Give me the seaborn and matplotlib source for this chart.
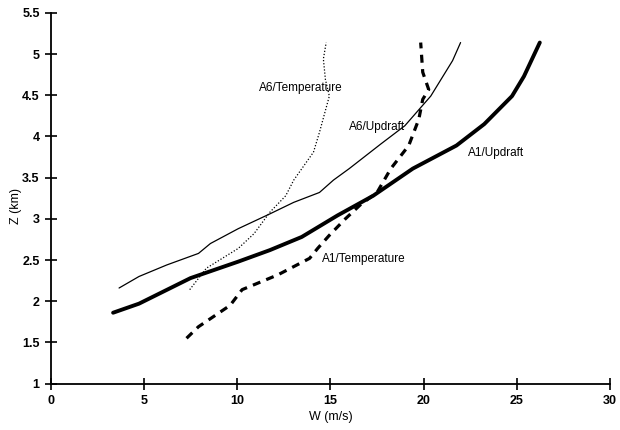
import numpy as np
import pandas as pd
import matplotlib
matplotlib.use("Agg")
import matplotlib.pyplot as plt
import seaborn as sns

# values
a1_up_w = [3.34, 4.73, 7.49, 10.05, 11.75, 13.46, 15.37, 17.29, 19.42, 21.76, 23.25, 24.74, 25.38, 26.23]
a1_up_z = [1.86, 1.97, 2.28, 2.48, 2.62, 2.78, 3.04, 3.28, 3.61, 3.89, 4.15, 4.49, 4.73, 5.14]

a6_up_w = [3.66, 4.73, 6.22, 7.92, 8.56, 10.05, 11.75, 13.03, 14.41, 15.16, 16.01, 17.71, 18.99, 20.38, 21.55, 21.98]
a6_up_z = [2.16, 2.30, 2.44, 2.58, 2.70, 2.88, 3.06, 3.20, 3.32, 3.47, 3.61, 3.91, 4.13, 4.49, 4.92, 5.14]

a6_t_w = [7.45, 8.34, 10.05, 10.90, 11.75, 12.60, 13.03, 14.09, 14.41, 14.94, 14.73, 14.62, 14.77]
a6_t_z = [2.14, 2.40, 2.64, 2.82, 3.08, 3.28, 3.47, 3.81, 4.05, 4.49, 4.69, 4.94, 5.14]

a1_t_w = [7.28, 7.92, 9.62, 10.26, 12.18, 13.88, 14.31, 14.94, 15.80, 16.65, 17.50, 18.24, 19.20, 19.74, 19.95, 20.27, 19.95, 19.84]
a1_t_z = [1.55, 1.69, 1.95, 2.14, 2.32, 2.52, 2.64, 2.80, 3.00, 3.18, 3.32, 3.61, 3.89, 4.21, 4.45, 4.57, 4.78, 5.14]

labels = ["A6/Temperature", "A6/Updraft", "A1/Updraft", "A1/Temperature"]
label_w = [13.4, 17.5, 23.9, 16.8]
label_z = [4.59, 4.12, 3.80, 2.51]

sns.set_theme(style="ticks")
plt.rcParams["font.family"] = ["Liberation Sans", "DejaVu Sans"]
plt.rcParams["text.color"] = "black"
plt.rcParams["axes.labelcolor"] = "black"

fig = plt.figure(figsize=(6.2, 4.3), dpi=100)
ax = fig.add_axes([0.082, 0.108, 0.902, 0.862])

sns.lineplot(x=a1_up_w, y=a1_up_z, sort=False, estimator=None, color="black", linewidth=2.8, ax=ax)
sns.lineplot(x=a6_up_w, y=a6_up_z, sort=False, estimator=None, color="black", linewidth=0.9, ax=ax)
sns.lineplot(x=a6_t_w, y=a6_t_z, sort=False, estimator=None, color="black", linewidth=0.9,
             linestyle=(0, (1, 1.5)), ax=ax)
sns.lineplot(x=a1_t_w, y=a1_t_z, sort=False, estimator=None, color="black", linewidth=2.3,
             linestyle=(0, (2.5, 2)), ax=ax)

for t, w, z in zip(labels, label_w, label_z):
    ax.text(w, z, t, ha="center", va="center", fontsize=8.5, color="black")

ax.set_xlim(0, 30)
ax.set_ylim(1, 5.5)
ax.set_xticks(np.arange(0, 31, 5))
ax.set_yticks(np.arange(1, 5.51, 0.5))
ax.set_xticklabels([str(v) for v in range(0, 31, 5)])
ax.set_yticklabels(["1", "1.5", "2", "2.5", "3", "3.5", "4", "4.5", "5", "5.5"])
ax.tick_params(direction="inout", length=8, width=1.2, colors="black", labelsize=9, pad=4)
for lab in ax.get_xticklabels() + ax.get_yticklabels():
    lab.set_fontweight("bold")
for s in ["left", "bottom"]:
    ax.spines[s].set_linewidth(1.3)
    ax.spines[s].set_color("black")
sns.despine(ax=ax)

ax.set_xlabel("W (m/s)", fontsize=9, labelpad=3)
ax.set_ylabel("Z (km)", fontsize=9, labelpad=0)
ax.yaxis.set_label_coords(-0.052, 0.48)

fig.savefig("out.png", dpi=100)
